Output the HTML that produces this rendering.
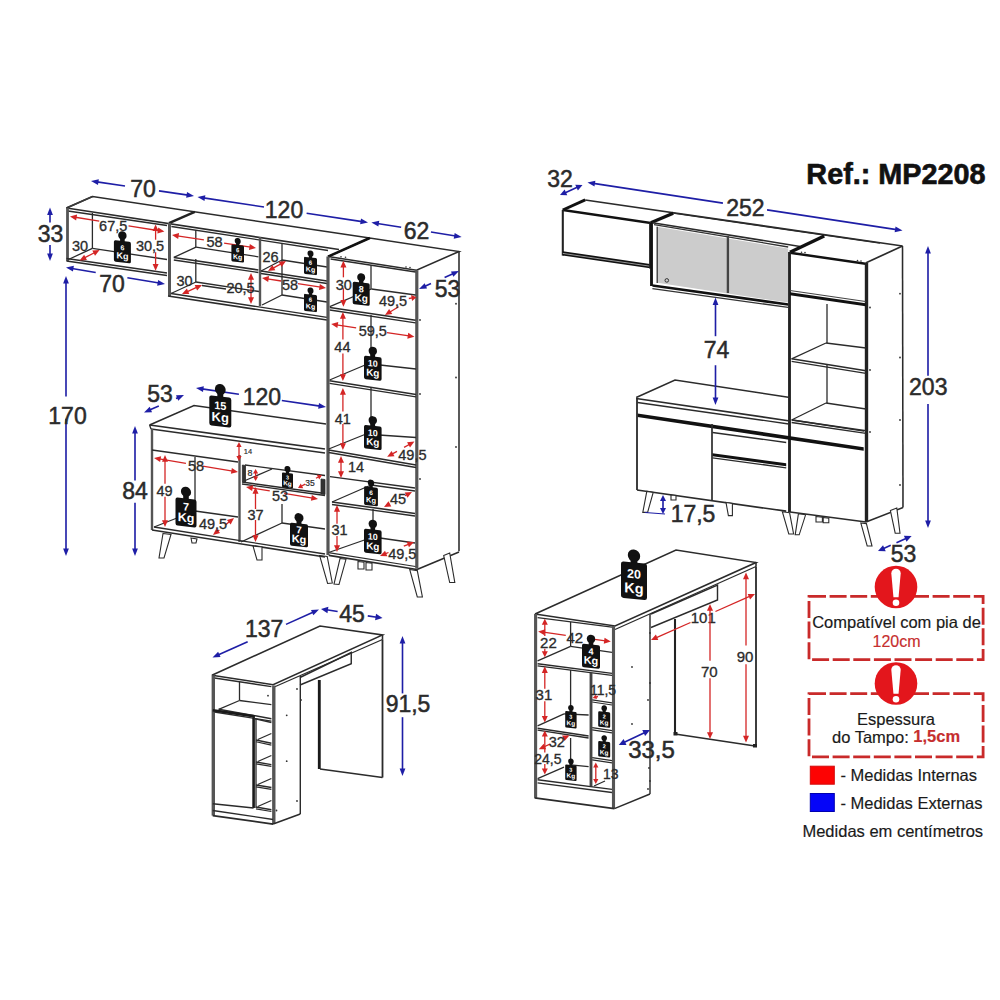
<!DOCTYPE html>
<html><head><meta charset="utf-8"><style>
html,body{margin:0;padding:0;background:#fff;overflow:hidden;width:1000px;height:1000px;}
svg{display:block;font-family:"Liberation Sans",sans-serif;}

</style></head><body>
<svg width="1000" height="1000" viewBox="0 0 1000 1000">
<rect width="1000" height="1000" fill="#fff"/>
<polyline points="66.5,208 92.5,196.5 369.7,238" fill="none" stroke="#2b2b2b" stroke-width="1.56" stroke-linejoin="miter"/>
<line x1="66.5" y1="208" x2="92.5" y2="196.5" stroke="#3a3a3a" stroke-width="1.6" stroke-linecap="butt"/>
<line x1="66.5" y1="208" x2="339" y2="249.5" stroke="#2b2b2b" stroke-width="1.69" stroke-linecap="butt"/>
<line x1="68" y1="211" x2="167" y2="225.5" stroke="#2b2b2b" stroke-width="1.3" stroke-linecap="butt"/>
<line x1="67.5" y1="208" x2="67.5" y2="261" stroke="#555" stroke-width="2.8" stroke-linecap="butt"/>
<line x1="66.5" y1="261" x2="167" y2="275.5" stroke="#2b2b2b" stroke-width="1.69" stroke-linecap="butt"/>
<line x1="66.5" y1="258.5" x2="167" y2="273" stroke="#2b2b2b" stroke-width="1.3" stroke-linecap="butt"/>
<line x1="92.4" y1="213" x2="92.4" y2="248.4" stroke="#2b2b2b" stroke-width="1.3" stroke-linecap="butt"/>
<line x1="92.4" y1="248.4" x2="167" y2="259.5" stroke="#2b2b2b" stroke-width="1.3" stroke-linecap="butt"/>
<line x1="68.4" y1="259.5" x2="92.4" y2="248.4" stroke="#2b2b2b" stroke-width="1.3" stroke-linecap="butt"/>
<line x1="169" y1="223.2" x2="194.8" y2="211.8" stroke="#222" stroke-width="2.4" stroke-linecap="butt"/>
<line x1="169.5" y1="223" x2="169.5" y2="296" stroke="#555" stroke-width="3" stroke-linecap="butt"/>
<line x1="171.4" y1="226.5" x2="328" y2="250.5" stroke="#2b2b2b" stroke-width="1.3" stroke-linecap="butt"/>
<line x1="195.8" y1="230" x2="195.8" y2="247" stroke="#2b2b2b" stroke-width="1.3" stroke-linecap="butt"/>
<line x1="195.8" y1="259" x2="195.8" y2="282" stroke="#2b2b2b" stroke-width="1.3" stroke-linecap="butt"/>
<line x1="173.8" y1="257.4" x2="258.4" y2="270" stroke="#2b2b2b" stroke-width="1.56" stroke-linecap="butt"/>
<line x1="173.8" y1="260" x2="258.4" y2="272.5" stroke="#2b2b2b" stroke-width="1.3" stroke-linecap="butt"/>
<line x1="196" y1="247.2" x2="258.4" y2="256.8" stroke="#2b2b2b" stroke-width="1.3" stroke-linecap="butt"/>
<line x1="173.8" y1="257.4" x2="196" y2="247.2" stroke="#2b2b2b" stroke-width="1.3" stroke-linecap="butt"/>
<line x1="168" y1="296" x2="327" y2="320" stroke="#2b2b2b" stroke-width="1.69" stroke-linecap="butt"/>
<line x1="171" y1="293.5" x2="327" y2="317.3" stroke="#2b2b2b" stroke-width="1.3" stroke-linecap="butt"/>
<line x1="171" y1="293.5" x2="196" y2="282" stroke="#2b2b2b" stroke-width="1.3" stroke-linecap="butt"/>
<line x1="196" y1="282" x2="259" y2="291.5" stroke="#2b2b2b" stroke-width="1.3" stroke-linecap="butt"/>
<line x1="260" y1="237" x2="260" y2="306" stroke="#555" stroke-width="2.4" stroke-linecap="butt"/>
<line x1="282" y1="243" x2="282" y2="295" stroke="#2b2b2b" stroke-width="1.3" stroke-linecap="butt"/>
<line x1="261" y1="271" x2="327" y2="281" stroke="#2b2b2b" stroke-width="1.56" stroke-linecap="butt"/>
<line x1="261" y1="273.5" x2="327" y2="283.5" stroke="#2b2b2b" stroke-width="1.3" stroke-linecap="butt"/>
<line x1="282" y1="260" x2="327" y2="267" stroke="#2b2b2b" stroke-width="1.3" stroke-linecap="butt"/>
<line x1="261" y1="271" x2="282" y2="260" stroke="#2b2b2b" stroke-width="1.3" stroke-linecap="butt"/>
<line x1="282" y1="295" x2="327" y2="302" stroke="#2b2b2b" stroke-width="1.3" stroke-linecap="butt"/>
<line x1="262" y1="305" x2="282" y2="295" stroke="#2b2b2b" stroke-width="1.3" stroke-linecap="butt"/>
<polyline points="328,256.6 369.7,238 459,251.5 416.5,270.2 328,256.6" fill="none" stroke="#2b2b2b" stroke-width="1.56" stroke-linejoin="miter"/>
<line x1="328" y1="256.6" x2="369.7" y2="238" stroke="#111" stroke-width="2.6" stroke-linecap="butt"/>
<line x1="328" y1="256.6" x2="328" y2="555" stroke="#555" stroke-width="3.2" stroke-linecap="butt"/>
<line x1="416.8" y1="270.2" x2="416.8" y2="568.6" stroke="#555" stroke-width="3.2" stroke-linecap="butt"/>
<line x1="459" y1="251.5" x2="459" y2="551.3" stroke="#2b2b2b" stroke-width="1.56" stroke-linecap="butt"/>
<line x1="328.7" y1="555.3" x2="417" y2="569.5" stroke="#2b2b2b" stroke-width="1.69" stroke-linecap="butt"/>
<line x1="417" y1="569.5" x2="459" y2="552" stroke="#2b2b2b" stroke-width="1.56" stroke-linecap="butt"/>
<line x1="330" y1="552.8" x2="415.5" y2="566.5" stroke="#2b2b2b" stroke-width="1.17" stroke-linecap="butt"/>
<line x1="330.6" y1="259" x2="415.6" y2="272" stroke="#2b2b2b" stroke-width="1.3" stroke-linecap="butt"/>
<line x1="371" y1="265" x2="371" y2="289" stroke="#2b2b2b" stroke-width="1.3" stroke-linecap="butt"/>
<line x1="329.8" y1="307.6" x2="415.6" y2="320.3" stroke="#2b2b2b" stroke-width="1.56" stroke-linecap="butt"/>
<line x1="329.8" y1="310" x2="415.6" y2="322.8" stroke="#2b2b2b" stroke-width="1.3" stroke-linecap="butt"/>
<line x1="371.4" y1="289" x2="415.6" y2="295" stroke="#2b2b2b" stroke-width="1.3" stroke-linecap="butt"/>
<line x1="329.8" y1="306.7" x2="371.4" y2="289" stroke="#2b2b2b" stroke-width="1.3" stroke-linecap="butt"/>
<line x1="371" y1="315" x2="371" y2="362" stroke="#2b2b2b" stroke-width="1.3" stroke-linecap="butt"/>
<line x1="329.6" y1="380.8" x2="416" y2="394.4" stroke="#2b2b2b" stroke-width="1.56" stroke-linecap="butt"/>
<line x1="329.6" y1="383.3" x2="416" y2="396.9" stroke="#2b2b2b" stroke-width="1.3" stroke-linecap="butt"/>
<line x1="371" y1="364" x2="416" y2="369" stroke="#2b2b2b" stroke-width="1.3" stroke-linecap="butt"/>
<line x1="329.6" y1="380" x2="371" y2="362.5" stroke="#2b2b2b" stroke-width="1.3" stroke-linecap="butt"/>
<line x1="371" y1="388" x2="371" y2="432" stroke="#2b2b2b" stroke-width="1.3" stroke-linecap="butt"/>
<line x1="328.7" y1="450" x2="416" y2="465" stroke="#2b2b2b" stroke-width="1.56" stroke-linecap="butt"/>
<line x1="328.7" y1="452.5" x2="416" y2="467.5" stroke="#2b2b2b" stroke-width="1.3" stroke-linecap="butt"/>
<line x1="364" y1="434" x2="416" y2="437.5" stroke="#2b2b2b" stroke-width="1.3" stroke-linecap="butt"/>
<line x1="328.7" y1="449" x2="371" y2="432" stroke="#2b2b2b" stroke-width="1.3" stroke-linecap="butt"/>
<line x1="330" y1="476.6" x2="415" y2="488" stroke="#2b2b2b" stroke-width="1.3" stroke-linecap="butt"/>
<line x1="332" y1="502" x2="415" y2="513.4" stroke="#2b2b2b" stroke-width="1.56" stroke-linecap="butt"/>
<line x1="332" y1="504.5" x2="415" y2="516" stroke="#2b2b2b" stroke-width="1.3" stroke-linecap="butt"/>
<line x1="371" y1="485" x2="415" y2="491" stroke="#2b2b2b" stroke-width="1.3" stroke-linecap="butt"/>
<line x1="332" y1="502" x2="371" y2="485" stroke="#2b2b2b" stroke-width="1.3" stroke-linecap="butt"/>
<line x1="373" y1="509" x2="373" y2="527" stroke="#2b2b2b" stroke-width="1.3" stroke-linecap="butt"/>
<line x1="373" y1="537" x2="415" y2="543" stroke="#2b2b2b" stroke-width="1.3" stroke-linecap="butt"/>
<line x1="328.7" y1="552.5" x2="373" y2="537" stroke="#2b2b2b" stroke-width="1.3" stroke-linecap="butt"/>
<circle cx="341" cy="256.8" r="0.8" fill="#333"/>
<circle cx="345.5" cy="257.3" r="0.8" fill="#333"/>
<circle cx="406" cy="267" r="0.8" fill="#333"/>
<circle cx="410" cy="267.5" r="0.8" fill="#333"/>
<circle cx="456" cy="303.75" r="0.9" fill="#333"/>
<circle cx="456" cy="377.5" r="0.9" fill="#333"/>
<circle cx="456" cy="447" r="0.9" fill="#333"/>
<circle cx="420" cy="320" r="0.9" fill="#333"/>
<circle cx="420" cy="394" r="0.9" fill="#333"/>
<circle cx="420" cy="479" r="0.9" fill="#333"/>
<polygon points="319.6,555.5 327.2,556.5 332.3,583 327.6,583.5" fill="#fff" stroke="#2b2b2b" stroke-width="1.1"/>
<polygon points="340,558.5 346,559.3 339,584.5 334,584" fill="#fff" stroke="#2b2b2b" stroke-width="1.1"/>
<polygon points="358,561.5 364,562.3 364,569 358,569" fill="#fff" stroke="#2b2b2b" stroke-width="1.1"/>
<polygon points="366,562.5 372,563.3 372,570 366,570" fill="#fff" stroke="#2b2b2b" stroke-width="1.1"/>
<polygon points="409.7,569.5 417.3,570.6 422.4,597 417.3,597" fill="#fff" stroke="#2b2b2b" stroke-width="1.1"/>
<polygon points="443.7,555.5 449.7,553 454.8,582.5 449.7,582.5" fill="#fff" stroke="#2b2b2b" stroke-width="1.1"/>
<polyline points="149.6,425 194,405.6 326,424" fill="none" stroke="#2b2b2b" stroke-width="1.56" stroke-linejoin="miter"/>
<line x1="149.6" y1="425" x2="325" y2="449" stroke="#2b2b2b" stroke-width="1.69" stroke-linecap="butt"/>
<line x1="149.6" y1="425" x2="151" y2="429" stroke="#2b2b2b" stroke-width="1.3" stroke-linecap="butt"/>
<line x1="151" y1="429" x2="325" y2="453" stroke="#2b2b2b" stroke-width="1.56" stroke-linecap="butt"/>
<line x1="152" y1="429" x2="152" y2="530" stroke="#555" stroke-width="2.4" stroke-linecap="butt"/>
<line x1="152" y1="450" x2="238" y2="462" stroke="#2b2b2b" stroke-width="1.3" stroke-linecap="butt"/>
<line x1="239.5" y1="455" x2="239.5" y2="542" stroke="#555" stroke-width="2.4" stroke-linecap="butt"/>
<line x1="152" y1="530" x2="325" y2="557" stroke="#2b2b2b" stroke-width="1.69" stroke-linecap="butt"/>
<line x1="154" y1="527" x2="325" y2="554" stroke="#2b2b2b" stroke-width="1.3" stroke-linecap="butt"/>
<line x1="195" y1="457" x2="195" y2="510" stroke="#2b2b2b" stroke-width="1.3" stroke-linecap="butt"/>
<line x1="154" y1="527" x2="195" y2="511" stroke="#2b2b2b" stroke-width="1.3" stroke-linecap="butt"/>
<line x1="195" y1="511" x2="238" y2="517" stroke="#2b2b2b" stroke-width="1.3" stroke-linecap="butt"/>
<line x1="245" y1="465" x2="325" y2="475.5" stroke="#2b2b2b" stroke-width="1.3" stroke-linecap="butt"/>
<line x1="244" y1="481" x2="272" y2="469" stroke="#2b2b2b" stroke-width="1.3" stroke-linecap="butt"/>
<line x1="242" y1="482" x2="325" y2="493.5" stroke="#2b2b2b" stroke-width="1.43" stroke-linecap="butt"/>
<line x1="242" y1="484" x2="325" y2="495.5" stroke="#2b2b2b" stroke-width="1.3" stroke-linecap="butt"/>
<polygon points="242.4,465 245.5,465.5 245.5,482 242.4,481.5" fill="#333" stroke="#2b2b2b" stroke-width="0.8"/>
<polygon points="321,479 325,479.5 325,494.5 321,494" fill="#333" stroke="#2b2b2b" stroke-width="0.8"/>
<line x1="282" y1="504" x2="282" y2="523" stroke="#2b2b2b" stroke-width="1.3" stroke-linecap="butt"/>
<line x1="241" y1="542" x2="282" y2="523" stroke="#2b2b2b" stroke-width="1.3" stroke-linecap="butt"/>
<line x1="282" y1="523" x2="325" y2="529" stroke="#2b2b2b" stroke-width="1.3" stroke-linecap="butt"/>
<polygon points="163,533.5 171,534.5 164,558 159,558" fill="#fff" stroke="#2b2b2b" stroke-width="1.1"/>
<polygon points="191,538 197,539 196,543 192,543" fill="#fff" stroke="#2b2b2b" stroke-width="1.1"/>
<polygon points="253,546 262,547 262,560 257,560" fill="#fff" stroke="#2b2b2b" stroke-width="1.1"/>
<line x1="96.94" y1="181.86" x2="124.99" y2="185.95" stroke="#1e1ea6" stroke-width="1.62" stroke-linecap="butt"/>
<line x1="158.98" y1="190.9" x2="188.06" y2="195.14" stroke="#1e1ea6" stroke-width="1.62" stroke-linecap="butt"/>
<polygon points="91,181 98.84,179.21 98,184.95" fill="#1e1ea6" stroke="none" stroke-width="0"/>
<polygon points="194,196 186.16,197.79 187,192.05" fill="#1e1ea6" stroke="none" stroke-width="0"/>
<text x="130.24" y="197.1" font-size="23" fill="#2b2b2b" stroke="#2b2b2b" stroke-width="0.51" font-weight="normal">70</text>
<line x1="203.43" y1="197.89" x2="264" y2="206.94" stroke="#1e1ea6" stroke-width="1.62" stroke-linecap="butt"/>
<line x1="306.62" y1="213.32" x2="362.07" y2="221.61" stroke="#1e1ea6" stroke-width="1.62" stroke-linecap="butt"/>
<polygon points="197.5,197 205.35,195.24 204.49,200.98" fill="#1e1ea6" stroke="none" stroke-width="0"/>
<polygon points="368,222.5 360.15,224.26 361.01,218.52" fill="#1e1ea6" stroke="none" stroke-width="0"/>
<text x="264.8" y="217.6" font-size="23" fill="#2b2b2b" stroke="#2b2b2b" stroke-width="0.51" font-weight="normal">120</text>
<line x1="377.32" y1="223.45" x2="401.17" y2="227.28" stroke="#1e1ea6" stroke-width="1.62" stroke-linecap="butt"/>
<line x1="430.93" y1="232.07" x2="455.68" y2="236.05" stroke="#1e1ea6" stroke-width="1.62" stroke-linecap="butt"/>
<polygon points="371.4,222.5 379.27,220.83 378.34,226.55" fill="#1e1ea6" stroke="none" stroke-width="0"/>
<polygon points="461.6,237 453.73,238.67 454.66,232.95" fill="#1e1ea6" stroke="none" stroke-width="0"/>
<text x="403.74" y="238.6" font-size="23" fill="#2b2b2b" stroke="#2b2b2b" stroke-width="0.51" font-weight="normal">62</text>
<line x1="50" y1="213.5" x2="50" y2="222.48" stroke="#1e1ea6" stroke-width="1.62" stroke-linecap="butt"/>
<line x1="50" y1="244.95" x2="50" y2="255" stroke="#1e1ea6" stroke-width="1.62" stroke-linecap="butt"/>
<polygon points="50,207.5 52.9,215 47.1,215" fill="#1e1ea6" stroke="none" stroke-width="0"/>
<polygon points="50,261 47.1,253.5 52.9,253.5" fill="#1e1ea6" stroke="none" stroke-width="0"/>
<text x="37.73" y="242.1" font-size="23" fill="#2b2b2b" stroke="#2b2b2b" stroke-width="0.51" font-weight="normal">33</text>
<line x1="71.92" y1="268.49" x2="95.7" y2="272.45" stroke="#1e1ea6" stroke-width="1.62" stroke-linecap="butt"/>
<line x1="127.38" y1="277.73" x2="159.08" y2="283.01" stroke="#1e1ea6" stroke-width="1.62" stroke-linecap="butt"/>
<polygon points="66,267.5 73.87,265.87 72.92,271.59" fill="#1e1ea6" stroke="none" stroke-width="0"/>
<polygon points="165,284 157.13,285.63 158.08,279.91" fill="#1e1ea6" stroke="none" stroke-width="0"/>
<text x="99.23" y="292.1" font-size="23" fill="#2b2b2b" stroke="#2b2b2b" stroke-width="0.51" font-weight="normal">70</text>
<line x1="424.47" y1="286.54" x2="431" y2="283.6" stroke="#1e1ea6" stroke-width="1.62" stroke-linecap="butt"/>
<line x1="444.6" y1="277.48" x2="453.53" y2="273.46" stroke="#1e1ea6" stroke-width="1.62" stroke-linecap="butt"/>
<polygon points="419,289 424.65,283.28 427.03,288.57" fill="#1e1ea6" stroke="none" stroke-width="0"/>
<polygon points="459,271 453.35,276.72 450.97,271.43" fill="#1e1ea6" stroke="none" stroke-width="0"/>
<text x="434.74" y="297.1" font-size="23" fill="#2b2b2b" stroke="#2b2b2b" stroke-width="0.51" font-weight="normal">53</text>
<line x1="66" y1="282" x2="66" y2="396.4" stroke="#1e1ea6" stroke-width="1.62" stroke-linecap="butt"/>
<line x1="66" y1="418.8" x2="66" y2="550" stroke="#1e1ea6" stroke-width="1.62" stroke-linecap="butt"/>
<polygon points="66,276 68.9,283.5 63.1,283.5" fill="#1e1ea6" stroke="none" stroke-width="0"/>
<polygon points="66,556 63.1,548.5 68.9,548.5" fill="#1e1ea6" stroke="none" stroke-width="0"/>
<text x="48.3" y="423.6" font-size="23" fill="#2b2b2b" stroke="#2b2b2b" stroke-width="0.51" font-weight="normal">170</text>
<line x1="135" y1="432" x2="135" y2="480.6" stroke="#1e1ea6" stroke-width="1.62" stroke-linecap="butt"/>
<line x1="135" y1="502.7" x2="135" y2="550" stroke="#1e1ea6" stroke-width="1.62" stroke-linecap="butt"/>
<polygon points="135,426 137.9,433.5 132.1,433.5" fill="#1e1ea6" stroke="none" stroke-width="0"/>
<polygon points="135,556 132.1,548.5 137.9,548.5" fill="#1e1ea6" stroke="none" stroke-width="0"/>
<text x="122.23" y="498.6" font-size="23" fill="#2b2b2b" stroke="#2b2b2b" stroke-width="0.51" font-weight="normal">84</text>
<line x1="149.5" y1="410.1" x2="158.8" y2="406.02" stroke="#1e1ea6" stroke-width="1.62" stroke-linecap="butt"/>
<line x1="176" y1="398.5" x2="178.5" y2="397.4" stroke="#1e1ea6" stroke-width="1.62" stroke-linecap="butt"/>
<polygon points="144,412.5 149.71,406.84 152.03,412.15" fill="#1e1ea6" stroke="none" stroke-width="0"/>
<polygon points="184,395 178.29,400.66 175.97,395.35" fill="#1e1ea6" stroke="none" stroke-width="0"/>
<text x="147.24" y="402.1" font-size="23" fill="#2b2b2b" stroke="#2b2b2b" stroke-width="0.51" font-weight="normal">53</text>
<line x1="201.94" y1="388.87" x2="238.9" y2="394.27" stroke="#1e1ea6" stroke-width="1.62" stroke-linecap="butt"/>
<line x1="281.8" y1="400.54" x2="320.06" y2="406.13" stroke="#1e1ea6" stroke-width="1.62" stroke-linecap="butt"/>
<polygon points="196,388 203.84,386.22 203,391.95" fill="#1e1ea6" stroke="none" stroke-width="0"/>
<polygon points="326,407 318.16,408.78 319,403.05" fill="#1e1ea6" stroke="none" stroke-width="0"/>
<text x="242.79" y="405.1" font-size="23" fill="#2b2b2b" stroke="#2b2b2b" stroke-width="0.51" font-weight="normal">120</text>
<line x1="75.29" y1="217.25" x2="99.26" y2="221.11" stroke="#d42525" stroke-width="1.3" stroke-linecap="butt"/>
<line x1="128.53" y1="225.82" x2="159.11" y2="230.75" stroke="#d42525" stroke-width="1.3" stroke-linecap="butt"/>
<polygon points="70,216.4 77.09,214.5 76.14,220.43" fill="#d42525" stroke="none" stroke-width="0"/>
<polygon points="164.4,231.6 157.31,233.5 158.26,227.57" fill="#d42525" stroke="none" stroke-width="0"/>
<text x="99.1" y="231.15" font-size="14.5" fill="#2b2b2b" stroke="#2b2b2b" stroke-width="0.32" font-weight="normal">67,5</text>
<line x1="155.6" y1="229.76" x2="155.6" y2="239.71" stroke="#d42525" stroke-width="1.3" stroke-linecap="butt"/>
<line x1="155.6" y1="252.24" x2="155.6" y2="265.44" stroke="#d42525" stroke-width="1.3" stroke-linecap="butt"/>
<polygon points="155.6,224.4 158.6,231.1 152.6,231.1" fill="#d42525" stroke="none" stroke-width="0"/>
<polygon points="155.6,270.8 152.6,264.1 158.6,264.1" fill="#d42525" stroke="none" stroke-width="0"/>
<text x="135.9" y="250.55" font-size="14.5" fill="#2b2b2b" stroke="#2b2b2b" stroke-width="0.32" font-weight="normal">30,5</text>
<line x1="84.36" y1="257.93" x2="94.84" y2="252.47" stroke="#d42525" stroke-width="1.3" stroke-linecap="butt"/>
<polygon points="79.6,260.4 84.16,254.65 86.93,259.97" fill="#d42525" stroke="none" stroke-width="0"/>
<polygon points="99.6,250 95.04,255.75 92.27,250.43" fill="#d42525" stroke="none" stroke-width="0"/>
<text x="71.95" y="251.35" font-size="14.5" fill="#2b2b2b" stroke="#2b2b2b" stroke-width="0.32" font-weight="normal">30</text>
<g transform="translate(122.4,241) skewY(6.84)">
<circle cx="0" cy="-5.46" r="4.2" fill="#111"/>
<rect x="-2.31" y="-5.46" width="4.62" height="6.46" fill="#111"/>
<rect x="-8.5" y="0" width="17" height="21.5" rx="1.7" fill="#111"/>
<text x="-1.94" y="9.24" font-size="7" fill="#fff" font-weight="bold">6</text>
<text x="-6.01" y="18.06" font-size="9" fill="#fff" font-weight="bold">Kg</text>
</g>
<line x1="177.3" y1="235.82" x2="203.92" y2="239.94" stroke="#d42525" stroke-width="1.3" stroke-linecap="butt"/>
<line x1="224.08" y1="243.06" x2="250.7" y2="247.18" stroke="#d42525" stroke-width="1.3" stroke-linecap="butt"/>
<polygon points="172,235 179.08,233.06 178.16,238.99" fill="#d42525" stroke="none" stroke-width="0"/>
<polygon points="256,248 248.92,249.94 249.84,244.01" fill="#d42525" stroke="none" stroke-width="0"/>
<text x="206.55" y="246.55" font-size="14.5" fill="#2b2b2b" stroke="#2b2b2b" stroke-width="0.32" font-weight="normal">58</text>
<line x1="186.89" y1="291.8" x2="197.11" y2="287.2" stroke="#d42525" stroke-width="1.3" stroke-linecap="butt"/>
<polygon points="182,294 186.88,288.51 189.34,293.99" fill="#d42525" stroke="none" stroke-width="0"/>
<polygon points="202,285 197.12,290.49 194.66,285.01" fill="#d42525" stroke="none" stroke-width="0"/>
<text x="176.45" y="286.15" font-size="14.5" fill="#2b2b2b" stroke="#2b2b2b" stroke-width="0.32" font-weight="normal">30</text>
<line x1="202" y1="285.5" x2="226" y2="289" stroke="#2b2b2b" stroke-width="1.3" stroke-linecap="butt"/>
<line x1="251" y1="278.36" x2="251" y2="298.64" stroke="#d42525" stroke-width="1.3" stroke-linecap="butt"/>
<polygon points="251,273 254,279.7 248,279.7" fill="#d42525" stroke="none" stroke-width="0"/>
<polygon points="251,304 248,297.3 254,297.3" fill="#d42525" stroke="none" stroke-width="0"/>
<text x="226.4" y="293.15" font-size="14.5" fill="#2b2b2b" stroke="#2b2b2b" stroke-width="0.32" font-weight="normal">20,5</text>
<g transform="translate(237.7,245) skewY(6.84)">
<circle cx="0" cy="-3.9" r="3" fill="#111"/>
<rect x="-1.65" y="-3.9" width="3.3" height="4.9" fill="#111"/>
<rect x="-6.3" y="0" width="12.6" height="17" rx="1.26" fill="#111"/>
<text x="-1.67" y="7.31" font-size="6" fill="#fff" font-weight="bold">6</text>
<text x="-4.67" y="14.28" font-size="7" fill="#fff" font-weight="bold">Kg</text>
</g>
<line x1="272.69" y1="268.4" x2="281.31" y2="263.6" stroke="#d42525" stroke-width="1.3" stroke-linecap="butt"/>
<polygon points="268,271 272.4,265.12 275.31,270.37" fill="#d42525" stroke="none" stroke-width="0"/>
<polygon points="286,261 281.6,266.88 278.69,261.63" fill="#d42525" stroke="none" stroke-width="0"/>
<text x="262.45" y="262.15" font-size="14.5" fill="#2b2b2b" stroke="#2b2b2b" stroke-width="0.32" font-weight="normal">26</text>
<line x1="267.3" y1="278.83" x2="281.2" y2="281" stroke="#d42525" stroke-width="1.3" stroke-linecap="butt"/>
<line x1="297.84" y1="283.6" x2="320.7" y2="287.17" stroke="#d42525" stroke-width="1.3" stroke-linecap="butt"/>
<polygon points="262,278 269.08,276.07 268.16,282" fill="#d42525" stroke="none" stroke-width="0"/>
<polygon points="326,288 318.92,289.93 319.84,284" fill="#d42525" stroke="none" stroke-width="0"/>
<text x="281.95" y="290.15" font-size="14.5" fill="#2b2b2b" stroke="#2b2b2b" stroke-width="0.32" font-weight="normal">58</text>
<g transform="translate(310.5,257.5) skewY(6.84)">
<circle cx="0" cy="-3.9" r="3" fill="#111"/>
<rect x="-1.65" y="-3.9" width="3.3" height="4.9" fill="#111"/>
<rect x="-6.5" y="0" width="13" height="17" rx="1.3" fill="#111"/>
<text x="-1.67" y="7.31" font-size="6" fill="#fff" font-weight="bold">6</text>
<text x="-4.67" y="14.28" font-size="7" fill="#fff" font-weight="bold">Kg</text>
</g>
<g transform="translate(310.5,294.5) skewY(6.84)">
<circle cx="0" cy="-3.9" r="3" fill="#111"/>
<rect x="-1.65" y="-3.9" width="3.3" height="4.9" fill="#111"/>
<rect x="-6.5" y="0" width="13" height="17" rx="1.3" fill="#111"/>
<text x="-1.67" y="7.31" font-size="6" fill="#fff" font-weight="bold">6</text>
<text x="-4.67" y="14.28" font-size="7" fill="#fff" font-weight="bold">Kg</text>
</g>
<line x1="343.4" y1="266.16" x2="343.4" y2="277.32" stroke="#d42525" stroke-width="1.3" stroke-linecap="butt"/>
<line x1="343.4" y1="288.34" x2="343.4" y2="301.34" stroke="#d42525" stroke-width="1.3" stroke-linecap="butt"/>
<polygon points="343.4,260.8 346.4,267.5 340.4,267.5" fill="#d42525" stroke="none" stroke-width="0"/>
<polygon points="343.4,306.7 340.4,300 346.4,300" fill="#d42525" stroke="none" stroke-width="0"/>
<text x="335.75" y="289.65" font-size="14.5" fill="#2b2b2b" stroke="#2b2b2b" stroke-width="0.32" font-weight="normal">30</text>
<g transform="translate(361.2,282.5) skewY(5.71)">
<circle cx="0" cy="-5.2" r="4" fill="#111"/>
<rect x="-2.2" y="-5.2" width="4.4" height="6.2" fill="#111"/>
<rect x="-8.5" y="0" width="17" height="22.5" rx="1.7" fill="#111"/>
<text x="-2.5" y="9.68" font-size="9" fill="#fff" font-weight="bold">8</text>
<text x="-6.68" y="18.9" font-size="10" fill="#fff" font-weight="bold">Kg</text>
</g>
<line x1="389.58" y1="312.21" x2="398.6" y2="306.7" stroke="#d42525" stroke-width="1.3" stroke-linecap="butt"/>
<polygon points="385,315 389.16,308.95 392.28,314.07" fill="#d42525" stroke="none" stroke-width="0"/>
<line x1="408.8" y1="298.5" x2="412.56" y2="297.87" stroke="#d42525" stroke-width="1.3" stroke-linecap="butt"/>
<polygon points="416.5,297.2 412.07,300.99 411.07,295.07" fill="#d42525" stroke="none" stroke-width="0"/>
<text x="378.9" y="305.85" font-size="14.5" fill="#2b2b2b" stroke="#2b2b2b" stroke-width="0.32" font-weight="normal">49,5</text>
<line x1="336.5" y1="324.82" x2="356.16" y2="327.84" stroke="#d42525" stroke-width="1.3" stroke-linecap="butt"/>
<line x1="386.94" y1="332.58" x2="409.1" y2="335.98" stroke="#d42525" stroke-width="1.3" stroke-linecap="butt"/>
<polygon points="331.2,324 338.28,322.05 337.37,327.98" fill="#d42525" stroke="none" stroke-width="0"/>
<polygon points="414.4,336.8 407.32,338.75 408.23,332.82" fill="#d42525" stroke="none" stroke-width="0"/>
<text x="358.7" y="335.75" font-size="14.5" fill="#2b2b2b" stroke="#2b2b2b" stroke-width="0.32" font-weight="normal">59,5</text>
<line x1="342.9" y1="317.36" x2="342.9" y2="339.6" stroke="#d42525" stroke-width="1.3" stroke-linecap="butt"/>
<line x1="342.9" y1="353.4" x2="342.9" y2="375.64" stroke="#d42525" stroke-width="1.3" stroke-linecap="butt"/>
<polygon points="342.9,312 345.9,318.7 339.9,318.7" fill="#d42525" stroke="none" stroke-width="0"/>
<polygon points="342.9,381 339.9,374.3 345.9,374.3" fill="#d42525" stroke="none" stroke-width="0"/>
<text x="334.35" y="351.61" font-size="14.5" fill="#2b2b2b" stroke="#2b2b2b" stroke-width="0.32" font-weight="normal">44</text>
<g transform="translate(372.8,356.5) skewY(5.71)">
<circle cx="0" cy="-5.46" r="4.2" fill="#111"/>
<rect x="-2.31" y="-5.46" width="4.62" height="6.46" fill="#111"/>
<rect x="-8.8" y="0" width="17.6" height="23.5" rx="1.76" fill="#111"/>
<text x="-5" y="10.11" font-size="9" fill="#fff" font-weight="bold">10</text>
<text x="-6.68" y="19.74" font-size="10" fill="#fff" font-weight="bold">Kg</text>
</g>
<line x1="342.9" y1="393.36" x2="342.9" y2="411.56" stroke="#d42525" stroke-width="1.3" stroke-linecap="butt"/>
<line x1="342.9" y1="423.96" x2="342.9" y2="444.64" stroke="#d42525" stroke-width="1.3" stroke-linecap="butt"/>
<polygon points="342.9,388 345.9,394.7 339.9,394.7" fill="#d42525" stroke="none" stroke-width="0"/>
<polygon points="342.9,450 339.9,443.3 345.9,443.3" fill="#d42525" stroke="none" stroke-width="0"/>
<text x="334.75" y="423.61" font-size="14.5" fill="#2b2b2b" stroke="#2b2b2b" stroke-width="0.32" font-weight="normal">41</text>
<g transform="translate(372.8,425.8) skewY(5.71)">
<circle cx="0" cy="-5.46" r="4.2" fill="#111"/>
<rect x="-2.31" y="-5.46" width="4.62" height="6.46" fill="#111"/>
<rect x="-8.8" y="0" width="17.6" height="23.5" rx="1.76" fill="#111"/>
<text x="-5" y="10.11" font-size="9" fill="#fff" font-weight="bold">10</text>
<text x="-6.68" y="19.74" font-size="10" fill="#fff" font-weight="bold">Kg</text>
</g>
<line x1="391.88" y1="454.19" x2="396.99" y2="451.33" stroke="#d42525" stroke-width="1.3" stroke-linecap="butt"/>
<line x1="404.06" y1="447.38" x2="409.72" y2="444.21" stroke="#d42525" stroke-width="1.3" stroke-linecap="butt"/>
<polygon points="387.2,456.8 391.59,450.91 394.51,456.15" fill="#d42525" stroke="none" stroke-width="0"/>
<polygon points="414.4,441.6 410.01,447.49 407.09,442.25" fill="#d42525" stroke="none" stroke-width="0"/>
<text x="398.3" y="459.75" font-size="14.5" fill="#2b2b2b" stroke="#2b2b2b" stroke-width="0.32" font-weight="normal">49,5</text>
<line x1="341" y1="461.36" x2="341" y2="472.64" stroke="#d42525" stroke-width="1.3" stroke-linecap="butt"/>
<polygon points="341,456 344,462.7 338,462.7" fill="#d42525" stroke="none" stroke-width="0"/>
<polygon points="341,478 338,471.3 344,471.3" fill="#d42525" stroke="none" stroke-width="0"/>
<text x="347.95" y="472" font-size="14.5" fill="#2b2b2b" stroke="#2b2b2b" stroke-width="0.32" font-weight="normal">14</text>
<g transform="translate(371,487) skewY(6.84)">
<circle cx="0" cy="-4.16" r="3.2" fill="#111"/>
<rect x="-1.76" y="-4.16" width="3.52" height="5.16" fill="#111"/>
<rect x="-6.9" y="0" width="13.8" height="18.6" rx="1.38" fill="#111"/>
<text x="-1.8" y="8" font-size="6.5" fill="#fff" font-weight="bold">6</text>
<text x="-5.01" y="15.62" font-size="7.5" fill="#fff" font-weight="bold">Kg</text>
</g>
<line x1="388.72" y1="504.47" x2="389.6" y2="504" stroke="#d42525" stroke-width="1.3" stroke-linecap="butt"/>
<line x1="405" y1="495.75" x2="407.28" y2="494.53" stroke="#d42525" stroke-width="1.3" stroke-linecap="butt"/>
<polygon points="384,507 388.49,501.19 391.32,506.48" fill="#d42525" stroke="none" stroke-width="0"/>
<polygon points="412,492 407.51,497.81 404.68,492.52" fill="#d42525" stroke="none" stroke-width="0"/>
<text x="389.95" y="504" font-size="14.5" fill="#2b2b2b" stroke="#2b2b2b" stroke-width="0.32" font-weight="normal">45</text>
<line x1="337" y1="510.36" x2="337" y2="523.8" stroke="#d42525" stroke-width="1.3" stroke-linecap="butt"/>
<line x1="337" y1="536.02" x2="337" y2="546.64" stroke="#d42525" stroke-width="1.3" stroke-linecap="butt"/>
<polygon points="337,505 340,511.7 334,511.7" fill="#d42525" stroke="none" stroke-width="0"/>
<polygon points="337,552 334,545.3 340,545.3" fill="#d42525" stroke="none" stroke-width="0"/>
<text x="331.45" y="535.15" font-size="14.5" fill="#2b2b2b" stroke="#2b2b2b" stroke-width="0.32" font-weight="normal">31</text>
<g transform="translate(372.8,529.5) skewY(5.71)">
<circle cx="0" cy="-5.46" r="4.2" fill="#111"/>
<rect x="-2.31" y="-5.46" width="4.62" height="6.46" fill="#111"/>
<rect x="-8.8" y="0" width="17.6" height="24" rx="1.76" fill="#111"/>
<text x="-5" y="10.32" font-size="9" fill="#fff" font-weight="bold">10</text>
<text x="-6.68" y="20.16" font-size="10" fill="#fff" font-weight="bold">Kg</text>
</g>
<line x1="384.96" y1="553.96" x2="388.5" y2="552.5" stroke="#d42525" stroke-width="1.3" stroke-linecap="butt"/>
<line x1="403.8" y1="546.2" x2="409.04" y2="544.04" stroke="#d42525" stroke-width="1.3" stroke-linecap="butt"/>
<polygon points="380,556 385.05,550.67 387.34,556.22" fill="#d42525" stroke="none" stroke-width="0"/>
<polygon points="414,542 408.95,547.33 406.66,541.78" fill="#d42525" stroke="none" stroke-width="0"/>
<text x="388.2" y="559.15" font-size="14.5" fill="#2b2b2b" stroke="#2b2b2b" stroke-width="0.32" font-weight="normal">49,5</text>
<g transform="translate(220.3,396.5) skewY(6.28)">
<circle cx="0" cy="-7.02" r="5.4" fill="#111"/>
<rect x="-2.97" y="-7.02" width="5.94" height="8.02" fill="#111"/>
<rect x="-11" y="0" width="22" height="30" rx="2.2" fill="#111"/>
<text x="-6.11" y="12.9" font-size="11" fill="#fff" font-weight="bold">15</text>
<text x="-8.68" y="25.2" font-size="13" fill="#fff" font-weight="bold">Kg</text>
</g>
<line x1="239" y1="446" x2="239" y2="457" stroke="#d42525" stroke-width="1.3" stroke-linecap="butt"/>
<polygon points="239,442 241.6,447 236.4,447" fill="#d42525" stroke="none" stroke-width="0"/>
<polygon points="239,461 236.4,456 241.6,456" fill="#d42525" stroke="none" stroke-width="0"/>
<text x="243.84" y="454.18" font-size="7.5" fill="#2b2b2b" stroke="#2b2b2b" stroke-width="0.16" font-weight="normal">14</text>
<line x1="159.29" y1="458.88" x2="185.92" y2="463.32" stroke="#d42525" stroke-width="1.3" stroke-linecap="butt"/>
<line x1="202.72" y1="466.12" x2="232.71" y2="471.12" stroke="#d42525" stroke-width="1.3" stroke-linecap="butt"/>
<polygon points="154,458 161.1,456.14 160.12,462.06" fill="#d42525" stroke="none" stroke-width="0"/>
<polygon points="238,472 230.9,473.86 231.88,467.94" fill="#d42525" stroke="none" stroke-width="0"/>
<text x="187.95" y="471.15" font-size="14.5" fill="#2b2b2b" stroke="#2b2b2b" stroke-width="0.32" font-weight="normal">58</text>
<line x1="165" y1="460.36" x2="165" y2="483.8" stroke="#d42525" stroke-width="1.3" stroke-linecap="butt"/>
<line x1="165" y1="496.76" x2="165" y2="521.64" stroke="#d42525" stroke-width="1.3" stroke-linecap="butt"/>
<polygon points="165,455 168,461.7 162,461.7" fill="#d42525" stroke="none" stroke-width="0"/>
<polygon points="165,527 162,520.3 168,520.3" fill="#d42525" stroke="none" stroke-width="0"/>
<text x="156.45" y="496.15" font-size="14.5" fill="#2b2b2b" stroke="#2b2b2b" stroke-width="0.32" font-weight="normal">49</text>
<g transform="translate(186,498.5) skewY(6.28)">
<circle cx="0" cy="-6.63" r="5.1" fill="#111"/>
<rect x="-2.81" y="-6.63" width="5.61" height="7.63" fill="#111"/>
<rect x="-10.5" y="0" width="21" height="28" rx="2.1" fill="#111"/>
<text x="-3.05" y="12.04" font-size="11" fill="#fff" font-weight="bold">7</text>
<text x="-8.34" y="23.52" font-size="12.5" fill="#fff" font-weight="bold">Kg</text>
</g>
<line x1="217.17" y1="531.63" x2="219.3" y2="529.9" stroke="#d42525" stroke-width="1.3" stroke-linecap="butt"/>
<line x1="226.02" y1="524.46" x2="229.83" y2="521.37" stroke="#d42525" stroke-width="1.3" stroke-linecap="butt"/>
<polygon points="213,535 216.32,528.45 220.1,533.12" fill="#d42525" stroke="none" stroke-width="0"/>
<polygon points="234,518 230.68,524.55 226.9,519.88" fill="#d42525" stroke="none" stroke-width="0"/>
<text x="198.9" y="529.15" font-size="14.5" fill="#2b2b2b" stroke="#2b2b2b" stroke-width="0.32" font-weight="normal">49,5</text>
<line x1="255.6" y1="472.6" x2="255.6" y2="477.4" stroke="#d42525" stroke-width="1.3" stroke-linecap="butt"/>
<polygon points="255.6,469 258.2,473.5 253,473.5" fill="#d42525" stroke="none" stroke-width="0"/>
<polygon points="255.6,481 253,476.5 258.2,476.5" fill="#d42525" stroke="none" stroke-width="0"/>
<text x="247.5" y="476.3" font-size="9" fill="#2b2b2b" stroke="#2b2b2b" stroke-width="0.2" font-weight="normal">8</text>
<g transform="translate(287.5,473) skewY(6.84)">
<circle cx="0" cy="-3.9" r="3" fill="#111"/>
<rect x="-1.65" y="-3.9" width="3.3" height="4.9" fill="#111"/>
<rect x="-5.5" y="0" width="11" height="15" rx="1.1" fill="#111"/>
<text x="-1.53" y="6.45" font-size="5.5" fill="#fff" font-weight="bold">3</text>
<text x="-4.34" y="12.6" font-size="6.5" fill="#fff" font-weight="bold">Kg</text>
</g>
<line x1="301.17" y1="486.29" x2="305.2" y2="484.1" stroke="#d42525" stroke-width="1.3" stroke-linecap="butt"/>
<line x1="316" y1="478.25" x2="318.83" y2="476.71" stroke="#d42525" stroke-width="1.3" stroke-linecap="butt"/>
<polygon points="298,488 300.72,483.57 303.2,488.14" fill="#d42525" stroke="none" stroke-width="0"/>
<polygon points="322,475 319.28,479.43 316.8,474.86" fill="#d42525" stroke="none" stroke-width="0"/>
<text x="305.28" y="485.95" font-size="8.5" fill="#2b2b2b" stroke="#2b2b2b" stroke-width="0.19" font-weight="normal">35</text>
<line x1="251.29" y1="487.88" x2="269.76" y2="490.96" stroke="#d42525" stroke-width="1.3" stroke-linecap="butt"/>
<line x1="284.16" y1="493.36" x2="312.71" y2="498.12" stroke="#d42525" stroke-width="1.3" stroke-linecap="butt"/>
<polygon points="246,487 253.1,485.14 252.12,491.06" fill="#d42525" stroke="none" stroke-width="0"/>
<polygon points="318,499 310.9,500.86 311.88,494.94" fill="#d42525" stroke="none" stroke-width="0"/>
<text x="271.95" y="501.15" font-size="14.5" fill="#2b2b2b" stroke="#2b2b2b" stroke-width="0.32" font-weight="normal">53</text>
<line x1="255.5" y1="492.36" x2="255.5" y2="509" stroke="#d42525" stroke-width="1.3" stroke-linecap="butt"/>
<line x1="255.5" y1="520" x2="255.5" y2="536.64" stroke="#d42525" stroke-width="1.3" stroke-linecap="butt"/>
<polygon points="255.5,487 258.5,493.7 252.5,493.7" fill="#d42525" stroke="none" stroke-width="0"/>
<polygon points="255.5,542 252.5,535.3 258.5,535.3" fill="#d42525" stroke="none" stroke-width="0"/>
<text x="247.45" y="520.15" font-size="14.5" fill="#2b2b2b" stroke="#2b2b2b" stroke-width="0.32" font-weight="normal">37</text>
<g transform="translate(299,523.5) skewY(6.28)">
<circle cx="0" cy="-5.85" r="4.5" fill="#111"/>
<rect x="-2.48" y="-5.85" width="4.95" height="6.85" fill="#111"/>
<rect x="-9" y="0" width="18" height="23" rx="1.8" fill="#111"/>
<text x="-2.78" y="9.89" font-size="10" fill="#fff" font-weight="bold">7</text>
<text x="-7.34" y="19.32" font-size="11" fill="#fff" font-weight="bold">Kg</text>
</g>
<line x1="585.2" y1="199.9" x2="902.5" y2="246" stroke="#2b2b2b" stroke-width="1.56" stroke-linecap="butt"/>
<line x1="562.8" y1="210" x2="585.2" y2="199.9" stroke="#111" stroke-width="2.86" stroke-linecap="butt"/>
<polygon points="562.8,208.8 650.8,221.8 650.8,224.2 562.8,211.2" fill="#111" stroke="none" stroke-width="0"/>
<line x1="650.8" y1="222.8" x2="673.2" y2="213.2" stroke="#111" stroke-width="3.12" stroke-linecap="butt"/>
<line x1="562.8" y1="210" x2="562.8" y2="255.6" stroke="#222" stroke-width="2.08" stroke-linecap="butt"/>
<polygon points="562.8,251.2 650,264 650,268.2 562.8,255.4" fill="#111" stroke="none" stroke-width="0"/>
<line x1="562.8" y1="253.4" x2="650" y2="266.2" stroke="#bbb" stroke-width="0.78" stroke-linecap="butt"/>
<line x1="650" y1="222.8" x2="650" y2="268.4" stroke="#222" stroke-width="1.82" stroke-linecap="butt"/>
<polygon points="657.2,226.8 788.2,248.6 788.2,302.6 657.2,282.8" fill="#cccccc" stroke="none" stroke-width="0"/>
<line x1="651.5" y1="222.8" x2="651.5" y2="286" stroke="#111" stroke-width="2.86" stroke-linecap="butt"/>
<line x1="657.2" y1="226.8" x2="657.2" y2="283" stroke="#333" stroke-width="1.3" stroke-linecap="butt"/>
<line x1="652.4" y1="222.8" x2="800" y2="246.4" stroke="#2b2b2b" stroke-width="1.56" stroke-linecap="butt"/>
<line x1="654" y1="224.6" x2="788.2" y2="247" stroke="#333" stroke-width="1.3" stroke-linecap="butt"/>
<line x1="727.9" y1="236" x2="727.9" y2="293" stroke="#444" stroke-width="2.34" stroke-linecap="butt"/>
<polygon points="652.4,284.2 788.2,303.2 788.2,305.8 652.4,286.8" fill="#111" stroke="none" stroke-width="0"/>
<line x1="652.4" y1="288.6" x2="788.2" y2="307.4" stroke="#333" stroke-width="1.3" stroke-linecap="butt"/>
<circle cx="666.8" cy="280.4" r="1.8" fill="none" stroke="#222" stroke-width="0.9"/>
<line x1="673.2" y1="213.2" x2="880" y2="243.2" stroke="#2b2b2b" stroke-width="1.3" stroke-linecap="butt"/>
<line x1="790" y1="252.2" x2="824.2" y2="236" stroke="#111" stroke-width="3.38" stroke-linecap="butt"/>
<polygon points="790,251.5 865.6,262.5 865.6,265.1 790,254.1" fill="#111" stroke="none" stroke-width="0"/>
<line x1="865.6" y1="263" x2="902.5" y2="246" stroke="#2b2b2b" stroke-width="1.69" stroke-linecap="butt"/>
<line x1="789.5" y1="252" x2="789.5" y2="512" stroke="#222" stroke-width="2.86" stroke-linecap="butt"/>
<line x1="866.5" y1="263" x2="866.5" y2="522" stroke="#222" stroke-width="3.38" stroke-linecap="butt"/>
<line x1="902.5" y1="246" x2="903" y2="507.6" stroke="#2b2b2b" stroke-width="1.56" stroke-linecap="butt"/>
<line x1="790" y1="512" x2="866" y2="522" stroke="#2b2b2b" stroke-width="1.69" stroke-linecap="butt"/>
<line x1="866" y1="522" x2="903" y2="507.6" stroke="#2b2b2b" stroke-width="1.56" stroke-linecap="butt"/>
<polygon points="790,292.2 865.6,303.2 865.6,306.2 790,295.2" fill="#111" stroke="none" stroke-width="0"/>
<line x1="790" y1="290.5" x2="865.6" y2="301.5" stroke="#444" stroke-width="1.04" stroke-linecap="butt"/>
<line x1="827" y1="304" x2="827" y2="343" stroke="#2b2b2b" stroke-width="1.3" stroke-linecap="butt"/>
<line x1="791.6" y1="358.8" x2="866" y2="370.8" stroke="#2b2b2b" stroke-width="1.56" stroke-linecap="butt"/>
<line x1="791.6" y1="361.3" x2="866" y2="373.3" stroke="#2b2b2b" stroke-width="1.3" stroke-linecap="butt"/>
<line x1="826" y1="343" x2="866" y2="348" stroke="#2b2b2b" stroke-width="1.3" stroke-linecap="butt"/>
<line x1="791.6" y1="358.8" x2="826" y2="343" stroke="#2b2b2b" stroke-width="1.3" stroke-linecap="butt"/>
<line x1="827" y1="364" x2="827" y2="403" stroke="#2b2b2b" stroke-width="1.3" stroke-linecap="butt"/>
<line x1="791.6" y1="420" x2="866" y2="430.8" stroke="#2b2b2b" stroke-width="1.56" stroke-linecap="butt"/>
<line x1="791.6" y1="422.5" x2="866" y2="433.3" stroke="#2b2b2b" stroke-width="1.3" stroke-linecap="butt"/>
<line x1="826" y1="403" x2="866" y2="409" stroke="#2b2b2b" stroke-width="1.3" stroke-linecap="butt"/>
<line x1="791.6" y1="420" x2="826" y2="403" stroke="#2b2b2b" stroke-width="1.3" stroke-linecap="butt"/>
<circle cx="900" cy="293.7" r="0.9" fill="#333"/>
<circle cx="900" cy="357.5" r="0.9" fill="#333"/>
<circle cx="900" cy="420" r="0.9" fill="#333"/>
<circle cx="900" cy="485" r="0.9" fill="#333"/>
<circle cx="870" cy="307.5" r="0.9" fill="#333"/>
<circle cx="870" cy="370" r="0.9" fill="#333"/>
<circle cx="870" cy="432" r="0.9" fill="#333"/>
<circle cx="801.5" cy="252.2" r="0.8" fill="#333"/>
<circle cx="805" cy="252.6" r="0.8" fill="#333"/>
<circle cx="857.5" cy="260.6" r="0.8" fill="#333"/>
<circle cx="861" cy="261" r="0.8" fill="#333"/>
<polyline points="636.2,397.5 675,380 790,397.5" fill="none" stroke="#2b2b2b" stroke-width="1.56" stroke-linejoin="miter"/>
<line x1="636.2" y1="398.5" x2="790" y2="421" stroke="#2b2b2b" stroke-width="1.69" stroke-linecap="butt"/>
<line x1="637.5" y1="402.5" x2="788.7" y2="424" stroke="#2b2b2b" stroke-width="1.3" stroke-linecap="butt"/>
<polygon points="637.5,413.5 863.7,447.2 863.7,450.8 637.5,417.1" fill="#111" stroke="none" stroke-width="0"/>
<line x1="637" y1="398" x2="637" y2="490" stroke="#2b2b2b" stroke-width="1.82" stroke-linecap="butt"/>
<line x1="712" y1="424" x2="712" y2="500.8" stroke="#2b2b2b" stroke-width="1.69" stroke-linecap="butt"/>
<line x1="712.5" y1="432.5" x2="786.2" y2="442.5" stroke="#2b2b2b" stroke-width="1.3" stroke-linecap="butt"/>
<polygon points="712.5,453.2 786.2,463.2 786.2,466.2 712.5,456.2" fill="#111" stroke="none" stroke-width="0"/>
<line x1="712.5" y1="457.8" x2="786.2" y2="467.8" stroke="#2b2b2b" stroke-width="1.3" stroke-linecap="butt"/>
<line x1="637" y1="490" x2="786.2" y2="511.2" stroke="#2b2b2b" stroke-width="1.69" stroke-linecap="butt"/>
<line x1="792.5" y1="420" x2="864" y2="431.2" stroke="#2b2b2b" stroke-width="1.3" stroke-linecap="butt"/>
<polygon points="646.8,491.4 653.2,492.4 647.6,512.4 642.8,512.4" fill="#fff" stroke="#2b2b2b" stroke-width="1.1"/>
<polygon points="671,495 676,495.5 676,500 671,500" fill="#fff" stroke="#2b2b2b" stroke-width="1.1"/>
<polygon points="726,502.5 732.4,503.4 732.4,515.6 728.4,515.6" fill="#fff" stroke="#2b2b2b" stroke-width="1.1"/>
<polygon points="782.4,511.8 789.6,512.8 793.6,534 788.8,534" fill="#fff" stroke="#2b2b2b" stroke-width="1.1"/>
<polygon points="798.4,513.8 805.6,514.8 799.2,534.8 795.2,534.8" fill="#fff" stroke="#2b2b2b" stroke-width="1.1"/>
<polygon points="816,516.5 822.4,517.3 822.4,522 816,522" fill="#fff" stroke="#2b2b2b" stroke-width="1.1"/>
<polygon points="823.2,517.5 828.8,518.2 828.8,522.8 823.2,522.8" fill="#fff" stroke="#2b2b2b" stroke-width="1.1"/>
<polygon points="860.8,523 866.4,523.6 872,546 867.2,546" fill="#fff" stroke="#2b2b2b" stroke-width="1.1"/>
<polygon points="890.4,510.5 896.8,508 900,533.2 895.2,533.2" fill="#fff" stroke="#2b2b2b" stroke-width="1.1"/>
<line x1="564.75" y1="192.89" x2="577.75" y2="187.11" stroke="#1e1ea6" stroke-width="1.62" stroke-linecap="butt"/>
<polygon points="560,195 564.64,189.44 567.24,195.28" fill="#1e1ea6" stroke="none" stroke-width="0"/>
<polygon points="582.5,185 577.86,190.56 575.26,184.72" fill="#1e1ea6" stroke="none" stroke-width="0"/>
<text x="547.24" y="187.1" font-size="23" fill="#2b2b2b" stroke="#2b2b2b" stroke-width="0.51" font-weight="normal">32</text>
<line x1="593.43" y1="183.4" x2="722.95" y2="203.14" stroke="#1e1ea6" stroke-width="1.62" stroke-linecap="butt"/>
<line x1="767.05" y1="209.86" x2="896.57" y2="229.6" stroke="#1e1ea6" stroke-width="1.62" stroke-linecap="butt"/>
<polygon points="587.5,182.5 595.35,180.76 594.48,186.5" fill="#1e1ea6" stroke="none" stroke-width="0"/>
<polygon points="902.5,230.5 894.65,232.24 895.52,226.5" fill="#1e1ea6" stroke="none" stroke-width="0"/>
<text x="726.29" y="215.6" font-size="23" fill="#2b2b2b" stroke="#2b2b2b" stroke-width="0.51" font-weight="normal">252</text>
<line x1="715.5" y1="303.5" x2="715.5" y2="336.2" stroke="#1e1ea6" stroke-width="1.62" stroke-linecap="butt"/>
<line x1="715.5" y1="365.23" x2="715.5" y2="399" stroke="#1e1ea6" stroke-width="1.62" stroke-linecap="butt"/>
<polygon points="715.5,297.5 718.4,305 712.6,305" fill="#1e1ea6" stroke="none" stroke-width="0"/>
<polygon points="715.5,405 712.6,397.5 718.4,397.5" fill="#1e1ea6" stroke="none" stroke-width="0"/>
<text x="703.74" y="358.37" font-size="23" fill="#2b2b2b" stroke="#2b2b2b" stroke-width="0.51" font-weight="normal">74</text>
<line x1="928" y1="252" x2="928" y2="375.72" stroke="#1e1ea6" stroke-width="1.62" stroke-linecap="butt"/>
<line x1="928" y1="403.92" x2="928" y2="522" stroke="#1e1ea6" stroke-width="1.62" stroke-linecap="butt"/>
<polygon points="928,246 930.9,253.5 925.1,253.5" fill="#1e1ea6" stroke="none" stroke-width="0"/>
<polygon points="928,528 925.1,520.5 930.9,520.5" fill="#1e1ea6" stroke="none" stroke-width="0"/>
<text x="909.09" y="395.1" font-size="23" fill="#2b2b2b" stroke="#2b2b2b" stroke-width="0.51" font-weight="normal">203</text>
<line x1="883.11" y1="548.72" x2="890.77" y2="545.3" stroke="#1e1ea6" stroke-width="1.62" stroke-linecap="butt"/>
<line x1="896.48" y1="542.75" x2="906.49" y2="538.28" stroke="#1e1ea6" stroke-width="1.62" stroke-linecap="butt"/>
<polygon points="878,551 883.05,545.13 885.74,551.16" fill="#1e1ea6" stroke="none" stroke-width="0"/>
<polygon points="911.6,536 906.55,541.87 903.86,535.84" fill="#1e1ea6" stroke="none" stroke-width="0"/>
<text x="890.74" y="562.1" font-size="23" fill="#2b2b2b" stroke="#2b2b2b" stroke-width="0.51" font-weight="normal">53</text>
<line x1="663" y1="499.8" x2="663" y2="509.2" stroke="#1e1ea6" stroke-width="1.62" stroke-linecap="butt"/>
<polygon points="663,495 666,501 660,501" fill="#1e1ea6" stroke="none" stroke-width="0"/>
<polygon points="663,514 660,508 666,508" fill="#1e1ea6" stroke="none" stroke-width="0"/>
<line x1="645" y1="512.5" x2="665" y2="514" stroke="#1e1ea6" stroke-width="1.17" stroke-linecap="butt"/>
<text x="670.63" y="522.37" font-size="23" fill="#2b2b2b" stroke="#2b2b2b" stroke-width="0.51" font-weight="normal">17,5</text>
<text x="806.36" y="184.28" font-size="28.8" fill="#111" stroke="#111" stroke-width="0.63" font-weight="bold">Ref.: MP2208</text>
<polyline points="211.9,675.3 320,626 382.5,635 273.1,684.7 211.9,675.3" fill="none" stroke="#2b2b2b" stroke-width="1.56" stroke-linejoin="miter"/>
<line x1="214.5" y1="678" x2="271.4" y2="686.6" stroke="#2b2b2b" stroke-width="1.3" stroke-linecap="butt"/>
<line x1="273.1" y1="687.5" x2="382.5" y2="639.5" stroke="#2b2b2b" stroke-width="1.3" stroke-linecap="butt"/>
<line x1="382.5" y1="635" x2="382.5" y2="639.5" stroke="#2b2b2b" stroke-width="1.56" stroke-linecap="butt"/>
<line x1="213.3" y1="675.3" x2="213.3" y2="815.6" stroke="#555" stroke-width="3.38" stroke-linecap="butt"/>
<line x1="273.8" y1="685.5" x2="273.8" y2="824" stroke="#555" stroke-width="3.38" stroke-linecap="butt"/>
<line x1="300.3" y1="676" x2="300.3" y2="814" stroke="#2b2b2b" stroke-width="1.43" stroke-linecap="butt"/>
<line x1="212.75" y1="815.6" x2="273.1" y2="824.1" stroke="#2b2b2b" stroke-width="1.69" stroke-linecap="butt"/>
<line x1="273.1" y1="824" x2="300.3" y2="814" stroke="#2b2b2b" stroke-width="1.56" stroke-linecap="butt"/>
<line x1="239.5" y1="682" x2="239.5" y2="700.5" stroke="#2b2b2b" stroke-width="1.3" stroke-linecap="butt"/>
<line x1="218.7" y1="709.3" x2="271.4" y2="718.7" stroke="#2b2b2b" stroke-width="1.43" stroke-linecap="butt"/>
<line x1="214.5" y1="712" x2="271.4" y2="721.2" stroke="#2b2b2b" stroke-width="1.3" stroke-linecap="butt"/>
<line x1="218.7" y1="709.3" x2="239.5" y2="700.5" stroke="#2b2b2b" stroke-width="1.3" stroke-linecap="butt"/>
<line x1="239.5" y1="700.5" x2="271.4" y2="704.6" stroke="#2b2b2b" stroke-width="1.3" stroke-linecap="butt"/>
<polyline points="212.75,710.2 253.6,716.1 253.6,808" fill="none" stroke="#1a1a1a" stroke-width="2.6" stroke-linejoin="miter"/>
<line x1="212.75" y1="803.7" x2="253.6" y2="808" stroke="#2b2b2b" stroke-width="1.43" stroke-linecap="butt"/>
<line x1="256" y1="718.7" x2="256" y2="808" stroke="#2b2b2b" stroke-width="1.3" stroke-linecap="butt"/>
<line x1="256" y1="740" x2="271.4" y2="743.3" stroke="#2b2b2b" stroke-width="1.43" stroke-linecap="butt"/>
<line x1="256" y1="741.8" x2="271.4" y2="745.1" stroke="#2b2b2b" stroke-width="1.17" stroke-linecap="butt"/>
<line x1="257.8" y1="739.5" x2="271.4" y2="733.5" stroke="#2b2b2b" stroke-width="1.3" stroke-linecap="butt"/>
<line x1="256" y1="762" x2="271.4" y2="764.6" stroke="#2b2b2b" stroke-width="1.43" stroke-linecap="butt"/>
<line x1="256" y1="763.8" x2="271.4" y2="766.4" stroke="#2b2b2b" stroke-width="1.17" stroke-linecap="butt"/>
<line x1="257.8" y1="761.5" x2="271.4" y2="755.5" stroke="#2b2b2b" stroke-width="1.3" stroke-linecap="butt"/>
<line x1="256" y1="785" x2="271.4" y2="787.5" stroke="#2b2b2b" stroke-width="1.43" stroke-linecap="butt"/>
<line x1="256" y1="786.8" x2="271.4" y2="789.3" stroke="#2b2b2b" stroke-width="1.17" stroke-linecap="butt"/>
<line x1="257.8" y1="784.5" x2="271.4" y2="778.5" stroke="#2b2b2b" stroke-width="1.3" stroke-linecap="butt"/>
<line x1="256" y1="807" x2="271.4" y2="809.7" stroke="#2b2b2b" stroke-width="1.43" stroke-linecap="butt"/>
<line x1="256" y1="808.8" x2="271.4" y2="811.5" stroke="#2b2b2b" stroke-width="1.17" stroke-linecap="butt"/>
<line x1="257.8" y1="806.5" x2="271.4" y2="800.5" stroke="#2b2b2b" stroke-width="1.3" stroke-linecap="butt"/>
<line x1="254" y1="718.7" x2="271.4" y2="722.5" stroke="#2b2b2b" stroke-width="1.3" stroke-linecap="butt"/>
<line x1="212.75" y1="810.5" x2="273.1" y2="819.5" stroke="#2b2b2b" stroke-width="1.3" stroke-linecap="butt"/>
<circle cx="268" cy="695.7" r="0.9" fill="#333"/>
<circle cx="286.7" cy="715.3" r="0.9" fill="#333"/>
<circle cx="286.7" cy="761.2" r="0.9" fill="#333"/>
<circle cx="297" cy="801" r="0.9" fill="#333"/>
<circle cx="276.5" cy="810.5" r="0.9" fill="#333"/>
<circle cx="297" cy="689" r="0.9" fill="#333"/>
<circle cx="301" cy="700" r="0.9" fill="#333"/>
<line x1="319.3" y1="680" x2="319.3" y2="769" stroke="#1a1a1a" stroke-width="2.86" stroke-linecap="butt"/>
<line x1="382.5" y1="639.5" x2="382.5" y2="777.5" stroke="#2b2b2b" stroke-width="1.82" stroke-linecap="butt"/>
<line x1="320" y1="769" x2="382.5" y2="777.5" stroke="#2b2b2b" stroke-width="1.69" stroke-linecap="butt"/>
<polyline points="300,677.5 351.25,652.5 351.25,663.75 300,685" fill="none" stroke="#2b2b2b" stroke-width="1.43" stroke-linejoin="miter"/>
<line x1="217.97" y1="655.03" x2="247.65" y2="641.66" stroke="#1e1ea6" stroke-width="1.62" stroke-linecap="butt"/>
<line x1="285.99" y1="624.38" x2="313.53" y2="611.97" stroke="#1e1ea6" stroke-width="1.62" stroke-linecap="butt"/>
<polygon points="212.5,657.5 218.15,651.77 220.53,657.06" fill="#1e1ea6" stroke="none" stroke-width="0"/>
<polygon points="319,609.5 313.35,615.23 310.97,609.94" fill="#1e1ea6" stroke="none" stroke-width="0"/>
<text x="244.99" y="637.1" font-size="23" fill="#2b2b2b" stroke="#2b2b2b" stroke-width="0.51" font-weight="normal">137</text>
<line x1="326.54" y1="609.81" x2="337.61" y2="611.43" stroke="#1e1ea6" stroke-width="1.62" stroke-linecap="butt"/>
<line x1="367.74" y1="615.84" x2="376.96" y2="617.19" stroke="#1e1ea6" stroke-width="1.62" stroke-linecap="butt"/>
<polygon points="321,609 328.4,606.75 327.45,613.28" fill="#1e1ea6" stroke="none" stroke-width="0"/>
<polygon points="382.5,618 375.1,620.25 376.05,613.72" fill="#1e1ea6" stroke="none" stroke-width="0"/>
<text x="339.24" y="621.87" font-size="23" fill="#2b2b2b" stroke="#2b2b2b" stroke-width="0.51" font-weight="normal">45</text>
<line x1="402.5" y1="642" x2="402.5" y2="693.4" stroke="#1e1ea6" stroke-width="1.62" stroke-linecap="butt"/>
<line x1="402.5" y1="717.2" x2="402.5" y2="770" stroke="#1e1ea6" stroke-width="1.62" stroke-linecap="butt"/>
<polygon points="402.5,636 405.4,643.5 399.6,643.5" fill="#1e1ea6" stroke="none" stroke-width="0"/>
<polygon points="402.5,776 399.6,768.5 405.4,768.5" fill="#1e1ea6" stroke="none" stroke-width="0"/>
<text x="385.63" y="712.1" font-size="23" fill="#2b2b2b" stroke="#2b2b2b" stroke-width="0.51" font-weight="normal">91,5</text>
<polyline points="535,614 676,550 756,562.5 615,626 535,614" fill="none" stroke="#2b2b2b" stroke-width="1.56" stroke-linejoin="miter"/>
<line x1="537.6" y1="617.6" x2="612" y2="627.2" stroke="#2b2b2b" stroke-width="1.3" stroke-linecap="butt"/>
<line x1="615" y1="629.5" x2="756" y2="566.5" stroke="#2b2b2b" stroke-width="1.3" stroke-linecap="butt"/>
<line x1="756" y1="562.5" x2="756" y2="566.5" stroke="#2b2b2b" stroke-width="1.56" stroke-linecap="butt"/>
<line x1="535.6" y1="614" x2="535.6" y2="797.8" stroke="#555" stroke-width="3.12" stroke-linecap="butt"/>
<line x1="613.5" y1="626" x2="613.5" y2="808.6" stroke="#555" stroke-width="3.12" stroke-linecap="butt"/>
<line x1="650" y1="614" x2="650" y2="794" stroke="#2b2b2b" stroke-width="1.43" stroke-linecap="butt"/>
<line x1="534.6" y1="797.8" x2="614.4" y2="808.6" stroke="#2b2b2b" stroke-width="1.69" stroke-linecap="butt"/>
<line x1="614.4" y1="808.6" x2="650" y2="794" stroke="#2b2b2b" stroke-width="1.56" stroke-linecap="butt"/>
<line x1="537.6" y1="782.8" x2="612" y2="792.5" stroke="#2b2b2b" stroke-width="1.3" stroke-linecap="butt"/>
<line x1="570.6" y1="622" x2="570.6" y2="646.4" stroke="#2b2b2b" stroke-width="1.3" stroke-linecap="butt"/>
<line x1="537.6" y1="663.8" x2="612" y2="673.4" stroke="#2b2b2b" stroke-width="1.43" stroke-linecap="butt"/>
<line x1="537.6" y1="665.8" x2="612" y2="675.4" stroke="#2b2b2b" stroke-width="1.3" stroke-linecap="butt"/>
<line x1="537.6" y1="660.8" x2="570.6" y2="646.4" stroke="#2b2b2b" stroke-width="1.3" stroke-linecap="butt"/>
<line x1="570.6" y1="646.4" x2="612" y2="652.4" stroke="#2b2b2b" stroke-width="1.3" stroke-linecap="butt"/>
<line x1="591" y1="672.8" x2="591" y2="786.4" stroke="#444" stroke-width="2.86" stroke-linecap="butt"/>
<line x1="570.6" y1="670" x2="570.6" y2="713.8" stroke="#2b2b2b" stroke-width="1.3" stroke-linecap="butt"/>
<line x1="537.6" y1="728.2" x2="588.6" y2="736" stroke="#2b2b2b" stroke-width="1.43" stroke-linecap="butt"/>
<line x1="537.6" y1="730.2" x2="588.6" y2="738" stroke="#2b2b2b" stroke-width="1.3" stroke-linecap="butt"/>
<line x1="537.6" y1="725.8" x2="564" y2="713.8" stroke="#2b2b2b" stroke-width="1.3" stroke-linecap="butt"/>
<line x1="564" y1="713.8" x2="588.6" y2="715" stroke="#2b2b2b" stroke-width="1.3" stroke-linecap="butt"/>
<line x1="570.6" y1="738" x2="570.6" y2="762" stroke="#2b2b2b" stroke-width="1.3" stroke-linecap="butt"/>
<line x1="537.6" y1="779.8" x2="612" y2="789.4" stroke="#2b2b2b" stroke-width="1.43" stroke-linecap="butt"/>
<line x1="537.6" y1="778.6" x2="564" y2="767.2" stroke="#2b2b2b" stroke-width="1.3" stroke-linecap="butt"/>
<line x1="570.6" y1="764.8" x2="588.6" y2="766.6" stroke="#2b2b2b" stroke-width="1.3" stroke-linecap="butt"/>
<line x1="592.2" y1="699.8" x2="612" y2="702.8" stroke="#2b2b2b" stroke-width="1.3" stroke-linecap="butt"/>
<line x1="592.2" y1="702" x2="612" y2="705" stroke="#2b2b2b" stroke-width="1.17" stroke-linecap="butt"/>
<line x1="592.2" y1="727.6" x2="612" y2="730.6" stroke="#2b2b2b" stroke-width="1.3" stroke-linecap="butt"/>
<line x1="592.2" y1="729.8" x2="612" y2="732.8" stroke="#2b2b2b" stroke-width="1.17" stroke-linecap="butt"/>
<line x1="592.2" y1="757.6" x2="612" y2="760.6" stroke="#2b2b2b" stroke-width="1.3" stroke-linecap="butt"/>
<line x1="592.2" y1="759.8" x2="612" y2="762.8" stroke="#2b2b2b" stroke-width="1.17" stroke-linecap="butt"/>
<line x1="594" y1="786" x2="605" y2="781" stroke="#2b2b2b" stroke-width="1.3" stroke-linecap="butt"/>
<line x1="675" y1="619" x2="675" y2="735" stroke="#222" stroke-width="2.08" stroke-linecap="butt"/>
<line x1="756" y1="566.5" x2="756" y2="746" stroke="#2b2b2b" stroke-width="1.82" stroke-linecap="butt"/>
<line x1="675" y1="734" x2="755" y2="746" stroke="#2b2b2b" stroke-width="1.69" stroke-linecap="butt"/>
<rect x="673.5" y="732" width="4" height="3.5" fill="#222"/>
<rect x="753" y="744" width="4" height="3.5" fill="#222"/>
<polyline points="651,614 717.5,585 717.5,600 651,627.5" fill="none" stroke="#2b2b2b" stroke-width="1.43" stroke-linejoin="miter"/>
<circle cx="632" cy="667" r="0.9" fill="#333"/>
<circle cx="632" cy="724" r="0.9" fill="#333"/>
<circle cx="648" cy="700" r="0.9" fill="#333"/>
<circle cx="649" cy="768" r="0.9" fill="#333"/>
<circle cx="648" cy="789" r="0.9" fill="#333"/>
<circle cx="650" cy="633" r="0.9" fill="#333"/>
<circle cx="650" cy="683" r="0.9" fill="#333"/>
<circle cx="650" cy="781" r="0.9" fill="#333"/>
<g transform="translate(634,562.5) skewY(5.71)">
<circle cx="0" cy="-6.82" r="6.2" fill="#111"/>
<rect x="-3.41" y="-6.82" width="6.82" height="7.82" fill="#111"/>
<rect x="-13" y="0" width="26" height="36.5" rx="2.6" fill="#111"/>
<text x="-6.94" y="15.7" font-size="12.5" fill="#fff" font-weight="bold">20</text>
<text x="-9.68" y="30.66" font-size="14.5" fill="#fff" font-weight="bold">Kg</text>
</g>
<line x1="543.51" y1="632.15" x2="565.79" y2="635.28" stroke="#d42525" stroke-width="1.3" stroke-linecap="butt"/>
<line x1="587.57" y1="638.34" x2="605.49" y2="640.85" stroke="#d42525" stroke-width="1.3" stroke-linecap="butt"/>
<polygon points="538.2,631.4 545.25,629.36 544.42,635.3" fill="#d42525" stroke="none" stroke-width="0"/>
<polygon points="610.8,641.6 603.75,643.64 604.58,637.7" fill="#d42525" stroke="none" stroke-width="0"/>
<text x="566.47" y="642.5" font-size="15" fill="#2b2b2b" stroke="#2b2b2b" stroke-width="0.33" font-weight="normal">42</text>
<line x1="544.8" y1="623.6" x2="544.8" y2="636.08" stroke="#d42525" stroke-width="1.3" stroke-linecap="butt"/>
<line x1="544.8" y1="648.75" x2="544.8" y2="652.4" stroke="#d42525" stroke-width="1.3" stroke-linecap="butt"/>
<polygon points="544.8,618.8 547.8,624.8 541.8,624.8" fill="#d42525" stroke="none" stroke-width="0"/>
<polygon points="544.8,657.2 541.8,651.2 547.8,651.2" fill="#d42525" stroke="none" stroke-width="0"/>
<text x="540.07" y="647.9" font-size="15" fill="#2b2b2b" stroke="#2b2b2b" stroke-width="0.33" font-weight="normal">22</text>
<g transform="translate(591,644.5) skewY(5.71)">
<circle cx="0" cy="-5.46" r="4.2" fill="#111"/>
<rect x="-2.31" y="-5.46" width="4.62" height="6.46" fill="#111"/>
<rect x="-9" y="0" width="18" height="23.5" rx="1.8" fill="#111"/>
<text x="-2.5" y="10.11" font-size="9" fill="#fff" font-weight="bold">4</text>
<text x="-7.34" y="19.74" font-size="11" fill="#fff" font-weight="bold">Kg</text>
</g>
<line x1="544.8" y1="671.56" x2="544.8" y2="688.76" stroke="#d42525" stroke-width="1.3" stroke-linecap="butt"/>
<line x1="544.8" y1="701.17" x2="544.8" y2="717.24" stroke="#d42525" stroke-width="1.3" stroke-linecap="butt"/>
<polygon points="544.8,666.2 547.8,672.9 541.8,672.9" fill="#d42525" stroke="none" stroke-width="0"/>
<polygon points="544.8,722.6 541.8,715.9 547.8,715.9" fill="#d42525" stroke="none" stroke-width="0"/>
<text x="535.57" y="700.1" font-size="15" fill="#2b2b2b" stroke="#2b2b2b" stroke-width="0.33" font-weight="normal">31</text>
<text x="589.91" y="695.06" font-size="14" fill="#2b2b2b" stroke="#2b2b2b" stroke-width="0.31" font-weight="normal">11,5</text>
<line x1="598" y1="696.5" x2="595.68" y2="697.14" stroke="#d42525" stroke-width="1.3" stroke-linecap="butt"/>
<polygon points="592.6,698 595.87,694.81 597.04,699.05" fill="#d42525" stroke="none" stroke-width="0"/>
<g transform="translate(570.9,711.5) skewY(5.71)">
<circle cx="0" cy="-3.64" r="2.8" fill="#111"/>
<rect x="-1.54" y="-3.64" width="3.08" height="4.64" fill="#111"/>
<rect x="-5.7" y="0" width="11.4" height="16.5" rx="1.14" fill="#111"/>
<text x="-1.53" y="7.09" font-size="5.5" fill="#fff" font-weight="bold">3</text>
<text x="-4.34" y="13.86" font-size="6.5" fill="#fff" font-weight="bold">Kg</text>
</g>
<g transform="translate(604.2,711.8) skewY(5.71)">
<circle cx="0" cy="-3.64" r="2.8" fill="#111"/>
<rect x="-1.54" y="-3.64" width="3.08" height="4.64" fill="#111"/>
<rect x="-6" y="0" width="12" height="15.5" rx="1.2" fill="#111"/>
<text x="-1.53" y="6.67" font-size="5.5" fill="#fff" font-weight="bold">2</text>
<text x="-4.34" y="13.02" font-size="6.5" fill="#fff" font-weight="bold">Kg</text>
</g>
<line x1="543.69" y1="747" x2="550.43" y2="743.96" stroke="#d42525" stroke-width="1.3" stroke-linecap="butt"/>
<line x1="567.87" y1="736.09" x2="564.51" y2="737.6" stroke="#d42525" stroke-width="1.3" stroke-linecap="butt"/>
<polygon points="538.8,749.2 543.67,743.71 546.14,749.18" fill="#d42525" stroke="none" stroke-width="0"/>
<polygon points="569.4,735.4 564.53,740.89 562.06,735.42" fill="#d42525" stroke="none" stroke-width="0"/>
<text x="548.75" y="747.35" font-size="14.5" fill="#2b2b2b" stroke="#2b2b2b" stroke-width="0.32" font-weight="normal">32</text>
<line x1="544.8" y1="735.4" x2="544.8" y2="752.5" stroke="#d42525" stroke-width="1.3" stroke-linecap="butt"/>
<line x1="544.8" y1="763.89" x2="544.8" y2="769.6" stroke="#d42525" stroke-width="1.3" stroke-linecap="butt"/>
<polygon points="544.8,730.6 547.8,736.6 541.8,736.6" fill="#d42525" stroke="none" stroke-width="0"/>
<polygon points="544.8,774.4 541.8,768.4 547.8,768.4" fill="#d42525" stroke="none" stroke-width="0"/>
<text x="534.18" y="764.4" font-size="14" fill="#2b2b2b" stroke="#2b2b2b" stroke-width="0.31" font-weight="normal">24,5</text>
<g transform="translate(604.2,741.6) skewY(5.71)">
<circle cx="0" cy="-3.64" r="2.8" fill="#111"/>
<rect x="-1.54" y="-3.64" width="3.08" height="4.64" fill="#111"/>
<rect x="-6" y="0" width="12" height="15.5" rx="1.2" fill="#111"/>
<text x="-1.53" y="6.67" font-size="5.5" fill="#fff" font-weight="bold">2</text>
<text x="-4.34" y="13.02" font-size="6.5" fill="#fff" font-weight="bold">Kg</text>
</g>
<g transform="translate(570.9,765) skewY(5.71)">
<circle cx="0" cy="-3.64" r="2.8" fill="#111"/>
<rect x="-1.54" y="-3.64" width="3.08" height="4.64" fill="#111"/>
<rect x="-5.7" y="0" width="11.4" height="15.5" rx="1.14" fill="#111"/>
<text x="-1.53" y="6.67" font-size="5.5" fill="#fff" font-weight="bold">3</text>
<text x="-4.34" y="13.02" font-size="6.5" fill="#fff" font-weight="bold">Kg</text>
</g>
<line x1="595.8" y1="766.4" x2="595.8" y2="780" stroke="#d42525" stroke-width="1.3" stroke-linecap="butt"/>
<polygon points="595.8,762.4 598.4,767.4 593.2,767.4" fill="#d42525" stroke="none" stroke-width="0"/>
<polygon points="595.8,784 593.2,779 598.4,779" fill="#d42525" stroke="none" stroke-width="0"/>
<text x="603.03" y="778.8" font-size="14" fill="#2b2b2b" stroke="#2b2b2b" stroke-width="0.31" font-weight="normal">13</text>
<line x1="655.9" y1="637.83" x2="690.52" y2="622.52" stroke="#d42525" stroke-width="1.3" stroke-linecap="butt"/>
<line x1="715.48" y1="611.48" x2="750.1" y2="596.17" stroke="#d42525" stroke-width="1.3" stroke-linecap="butt"/>
<polygon points="651,640 655.91,634.55 658.34,640.03" fill="#d42525" stroke="none" stroke-width="0"/>
<polygon points="755,594 750.09,599.45 747.66,593.97" fill="#d42525" stroke="none" stroke-width="0"/>
<text x="690.77" y="623" font-size="15" fill="#2b2b2b" stroke="#2b2b2b" stroke-width="0.33" font-weight="normal">101</text>
<line x1="710" y1="609.36" x2="710" y2="660.7" stroke="#d42525" stroke-width="1.3" stroke-linecap="butt"/>
<line x1="710" y1="678.25" x2="710" y2="733.64" stroke="#d42525" stroke-width="1.3" stroke-linecap="butt"/>
<polygon points="710,604 713,610.7 707,610.7" fill="#d42525" stroke="none" stroke-width="0"/>
<polygon points="710,739 707,732.3 713,732.3" fill="#d42525" stroke="none" stroke-width="0"/>
<text x="700.97" y="676.5" font-size="15" fill="#2b2b2b" stroke="#2b2b2b" stroke-width="0.33" font-weight="normal">70</text>
<line x1="746" y1="577.86" x2="746" y2="645.6" stroke="#d42525" stroke-width="1.3" stroke-linecap="butt"/>
<line x1="746" y1="664.3" x2="746" y2="737.14" stroke="#d42525" stroke-width="1.3" stroke-linecap="butt"/>
<polygon points="746,572.5 749,579.2 743,579.2" fill="#d42525" stroke="none" stroke-width="0"/>
<polygon points="746,742.5 743,735.8 749,735.8" fill="#d42525" stroke="none" stroke-width="0"/>
<text x="736.67" y="661.5" font-size="15" fill="#2b2b2b" stroke="#2b2b2b" stroke-width="0.33" font-weight="normal">90</text>
<line x1="623.8" y1="742.58" x2="644.95" y2="732.42" stroke="#1e1ea6" stroke-width="1.62" stroke-linecap="butt"/>
<polygon points="618.75,745 623.63,739 626.49,744.95" fill="#1e1ea6" stroke="none" stroke-width="0"/>
<polygon points="650,730 645.12,736 642.26,730.05" fill="#1e1ea6" stroke="none" stroke-width="0"/>
<text x="628.16" y="757.8" font-size="24" fill="#2b2b2b" stroke="#2b2b2b" stroke-width="0.53" font-weight="normal">33,5</text>
<rect x="809" y="596.4" width="174.1" height="63.3" fill="none" stroke="#c92a2a" stroke-width="2.8" stroke-dasharray="17 3.6"/>
<rect x="809" y="693.6" width="174.1" height="63.2" fill="none" stroke="#c92a2a" stroke-width="2.8" stroke-dasharray="17 3.6"/>
<circle cx="896" cy="587" r="21.3" fill="#e3161c"/>
<path d="M891.31,573.37 A4.69,4.69 0 0 1 900.69,573.37 L898.56,597.22 L893.44,597.22 Z" fill="#fff"/>
<circle cx="896" cy="602.76" r="3.3" fill="#fff"/>
<circle cx="896" cy="683.5" r="21.3" fill="#e3161c"/>
<path d="M891.31,669.87 A4.69,4.69 0 0 1 900.69,669.87 L898.56,693.72 L893.44,693.72 Z" fill="#fff"/>
<circle cx="896" cy="699.26" r="3.3" fill="#fff"/>
<text x="812.14" y="628.13" font-size="16.5" fill="#1a1a1a" stroke="#1a1a1a" stroke-width="0.17" font-weight="normal">Compatível com pia de</text>
<text x="872.5" y="647.2" font-size="16" fill="#c62e2e" stroke="#c62e2e" stroke-width="0.16" font-weight="normal">120cm</text>
<text x="856.98" y="725.38" font-size="16.5" fill="#1a1a1a" stroke="#1a1a1a" stroke-width="0.17" font-weight="normal">Espessura</text>
<text x="832" y="742.56" font-size="16.5" fill="#1a1a1a" stroke="#1a1a1a" stroke-width="0.17" font-weight="normal">do Tampo: </text>
<text x="913.33" y="741.99" font-size="16.5" fill="#c62e2e" stroke="#c62e2e" stroke-width="0.17" font-weight="bold">1,5cm</text>
<rect x="810.3" y="766.2" width="24" height="18" fill="#fd0303" stroke="#d20a0a" stroke-width="1"/>
<rect x="810.3" y="793.5" width="24" height="18" fill="#0505f8" stroke="#0000b0" stroke-width="1"/>
<text x="840.4" y="780.96" font-size="16.5" fill="#1a1a1a" stroke="#1a1a1a" stroke-width="0.17" font-weight="normal">- Medidas Internas</text>
<text x="840.4" y="808.96" font-size="16.5" fill="#1a1a1a" stroke="#1a1a1a" stroke-width="0.17" font-weight="normal">- Medidas Externas</text>
<text x="802.46" y="836.63" font-size="16.5" fill="#1a1a1a" stroke="#1a1a1a" stroke-width="0.17" font-weight="normal">Medidas em centímetros</text>
</svg></body></html>
